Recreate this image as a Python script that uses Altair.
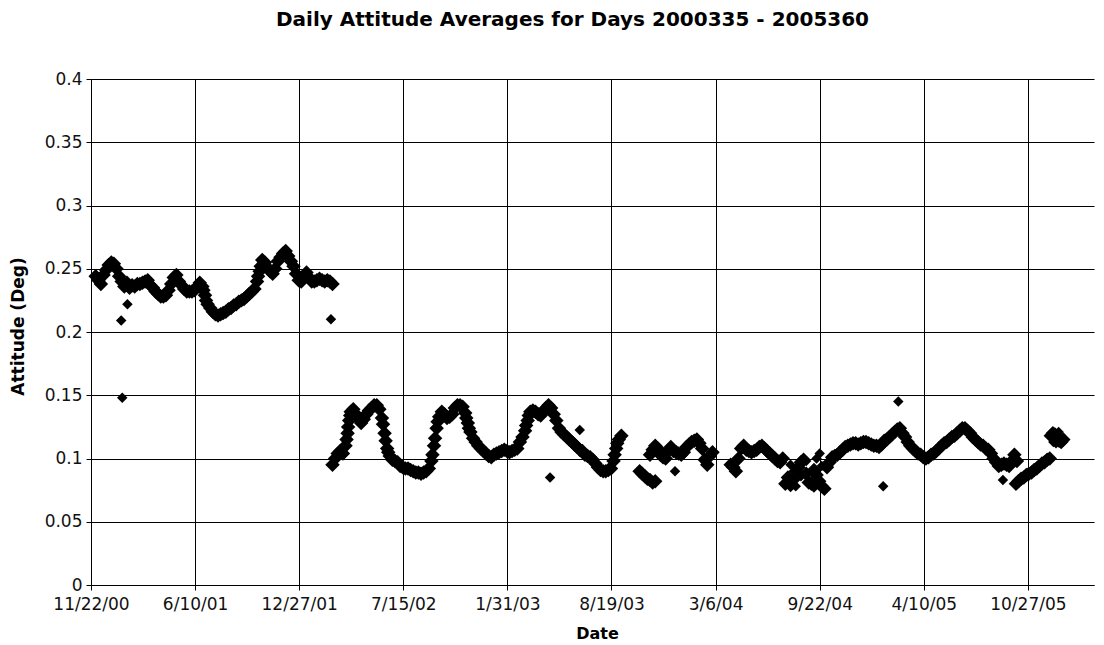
import altair as alt
import pandas as pd

# Day offsets are counted from 2000-12-01 (day 2000335)
BASE = "2000-12-01"

seg1_start, seg1_step = 0, 5
seg1_vals = [0.244, 0.241, 0.238, 0.245, 0.249, 0.253, 0.255, 0.254, 0.250, 0.244,
             0.240, 0.236, 0.239, 0.235, 0.237, 0.236, 0.238, 0.238, 0.239, 0.240,
             0.241, 0.237, 0.235, 0.232, 0.230, 0.228, 0.228, 0.229, 0.233, 0.238,
             0.243, 0.245, 0.240, 0.237, 0.234, 0.232, 0.232, 0.232, 0.233, 0.236,
             0.239, 0.236, 0.229, 0.222, 0.219, 0.216, 0.214, 0.213, 0.214, 0.215,
             0.216, 0.218, 0.219, 0.221, 0.222, 0.224, 0.225, 0.226, 0.228, 0.230,
             0.232, 0.234, 0.240, 0.248, 0.257, 0.255, 0.251, 0.248, 0.246, 0.250,
             0.256, 0.259, 0.262, 0.264, 0.260, 0.256, 0.252, 0.246, 0.241, 0.240,
             0.244, 0.247, 0.243, 0.240, 0.240, 0.241, 0.242, 0.241, 0.240, 0.241,
             0.240, 0.238]

seg2_start, seg2_step = 455, 5
seg2_vals = [0.095, 0.100, 0.104, 0.106, 0.104, 0.110, 0.125, 0.137, 0.139, 0.135,
             0.132, 0.128, 0.131, 0.135, 0.138, 0.140, 0.142, 0.142, 0.139, 0.132,
             0.120, 0.108, 0.102, 0.099, 0.098, 0.097, 0.094, 0.093, 0.092, 0.092,
             0.091, 0.090, 0.089, 0.089, 0.088, 0.089, 0.090, 0.092, 0.098, 0.110,
             0.124, 0.133, 0.137, 0.135, 0.132, 0.133, 0.135, 0.140, 0.142, 0.142,
             0.141, 0.136, 0.128, 0.121, 0.116, 0.113, 0.110, 0.108, 0.106, 0.104,
             0.102, 0.101, 0.103, 0.104, 0.105, 0.106, 0.107, 0.106, 0.105, 0.106,
             0.107, 0.108, 0.113, 0.117, 0.122, 0.130, 0.137, 0.138, 0.137, 0.135,
             0.134, 0.137, 0.140, 0.142, 0.140, 0.135, 0.130, 0.124, 0.121, 0.119,
             0.117, 0.115, 0.113, 0.111, 0.109, 0.107, 0.106, 0.103, 0.102, 0.101,
             0.099, 0.096, 0.093, 0.091, 0.090, 0.090, 0.091, 0.092, 0.098, 0.108,
             0.115, 0.118]

seg3a_start, seg3a_step = 1045, 5
seg3a_vals = [0.090, 0.088, 0.086, 0.084, 0.083, 0.081, 0.082]

seg3b_start, seg3b_step = 1065, 5
seg3b_vals = [0.103, 0.107, 0.110, 0.108, 0.103, 0.101, 0.100, 0.106, 0.109, 0.106,
              0.105, 0.104, 0.103, 0.105, 0.109, 0.111, 0.113, 0.114, 0.115, 0.112,
              0.108, 0.099, 0.095, 0.102, 0.105]

seg4_start, seg4_step = 1220, 5
seg4_vals = [0.095, 0.093, 0.090, 0.100, 0.108, 0.110, 0.107, 0.106, 0.105, 0.106,
             0.107, 0.109, 0.110, 0.108, 0.106, 0.104, 0.102, 0.100, 0.098, 0.097,
             0.100, 0.080, 0.085, 0.079, 0.083, 0.090, 0.093, 0.097, 0.099, 0.088,
             0.081, 0.080, 0.091, 0.087, 0.082, 0.078, 0.076, 0.093, 0.097, 0.101,
             0.102, 0.103, 0.105, 0.107, 0.109, 0.110, 0.111, 0.112, 0.112, 0.111,
             0.112, 0.113, 0.113, 0.112, 0.111, 0.110, 0.110, 0.109, 0.111, 0.114,
             0.115, 0.117, 0.119, 0.121, 0.123, 0.124, 0.120, 0.117, 0.113, 0.110,
             0.108, 0.106, 0.104, 0.103, 0.101, 0.100, 0.101, 0.103, 0.104, 0.106,
             0.108, 0.110, 0.112, 0.113, 0.115, 0.117, 0.118, 0.120, 0.122, 0.124,
             0.124, 0.122, 0.120, 0.117, 0.115, 0.113, 0.111, 0.110, 0.108, 0.107,
             0.104, 0.100, 0.097, 0.094, 0.095, 0.096, 0.095, 0.094, 0.098, 0.103,
             0.098]

seg5_start, seg5_step = 1768, 5
seg5_vals = [0.080, 0.082, 0.084, 0.085, 0.087, 0.088, 0.089, 0.091, 0.092, 0.094,
             0.096, 0.097, 0.099, 0.100]

seg6_start, seg6_step = 1835, 4
seg6_vals = [0.118, 0.120, 0.119, 0.116, 0.114, 0.113, 0.115]

# extra band points on the steep rises and falls
steep_days = [207, 212, 312, 317, 482, 484, 487, 489, 552, 557, 562,
              647, 652, 657, 712, 717, 827, 832, 997, 1002]
steep_vals = [0.233, 0.225, 0.244, 0.252, 0.115, 0.120, 0.130, 0.134, 0.127, 0.114, 0.105,
              0.103, 0.116, 0.129, 0.132, 0.124, 0.126, 0.134, 0.103, 0.112]

# isolated points
extra_days = [49, 51, 61, 452, 873, 930, 1113, 1391, 1513, 1542, 1743,
              1335, 1345, 1355, 1365, 1380, 1395, 1385, 1840, 1850, 1845]
extra_vals = [0.209, 0.148, 0.222, 0.210, 0.085, 0.1225, 0.090, 0.104, 0.078, 0.145, 0.083,
              0.095, 0.078, 0.086, 0.098, 0.077, 0.094, 0.100, 0.113, 0.121, 0.112]

x_ticks = ["2000-11-22", "2001-06-10", "2001-12-27", "2002-07-15", "2003-01-31",
           "2003-08-19", "2004-03-06", "2004-09-22", "2005-04-10", "2005-10-27"]
y_ticks = [0, 0.05, 0.1, 0.15, 0.2, 0.25, 0.3, 0.35, 0.4]
x_domain = ["2000-11-22", "2006-03-03"]

segments = [(seg1_start, seg1_step, seg1_vals), (seg2_start, seg2_step, seg2_vals),
            (seg3a_start, seg3a_step, seg3a_vals), (seg3b_start, seg3b_step, seg3b_vals),
            (seg4_start, seg4_step, seg4_vals), (seg5_start, seg5_step, seg5_vals),
            (seg6_start, seg6_step, seg6_vals)]

base = pd.Timestamp(BASE)
band_rows = []
for start, step, vals in segments:
    for i, v in enumerate(vals):
        d = base + pd.Timedelta(days=start + i * step)
        band_rows.append({"date": d.strftime("%Y-%m-%d"), "att": v})
for dd, v in zip(steep_days, steep_vals):
    d = base + pd.Timedelta(days=dd)
    band_rows.append({"date": d.strftime("%Y-%m-%d"), "att": v})
band_df = pd.DataFrame(band_rows)

extra_rows = []
for dd, v in zip(extra_days, extra_vals):
    d = base + pd.Timedelta(days=dd)
    extra_rows.append({"date": d.strftime("%Y-%m-%d"), "att": v})
extra_df = pd.DataFrame(extra_rows)


def ms(s):
    return int(pd.Timestamp(s, tz="UTC").timestamp() * 1000)


FONT = "DejaVu Sans"

x_enc = alt.X("date:T",
              scale=alt.Scale(type="utc", domain=[ms(v) for v in x_domain], nice=False),
              axis=alt.Axis(values=[ms(v) for v in x_ticks],
                            labelExpr="utcFormat(datum.value, '%-m/%-d/%y')",
                            title="Date", titleFont=FONT, titleFontSize=16, titleFontWeight="bold",
                            titleColor="#000", titleX=506, titleY=53, titleBaseline="alphabetic",
                            labelFont=FONT, labelFontSize=17, labelColor="#111",
                            labelPadding=6, tickSize=5, tickColor="#000",
                            domainColor="#000", grid=True, gridColor="#000",
                            gridOpacity=1, gridWidth=1, labelOverlap=False, labelFlush=False))
y_enc = alt.Y("att:Q",
              scale=alt.Scale(domain=[0, 0.4], nice=False, zero=True),
              axis=alt.Axis(values=y_ticks, format="~g",
                            title="Attitude (Deg)", titleFont=FONT, titleFontSize=17,
                            titleFontWeight="bold", titleColor="#000", titleX=-64, titleY=247,
                            labelFont=FONT, labelFontSize=17, labelColor="#111",
                            labelPadding=4, tickSize=5, tickColor="#000",
                            domainColor="#000", grid=True, gridColor="#000",
                            gridOpacity=1, gridWidth=1))

band = alt.Chart(band_df).mark_point(
    shape="diamond", filled=True, size=210, color="#000000", opacity=1
).encode(x=x_enc, y=y_enc)

extra = alt.Chart(extra_df).mark_point(
    shape="diamond", filled=True, size=110, color="#000000", opacity=1
).encode(x="date:T", y="att:Q")

chart = alt.layer(band, extra).properties(
    width=1003,
    height=506,
    autosize=alt.AutoSizeParams(type="none"),
    padding={"left": 83, "top": 71, "right": 2, "bottom": 58},
    title=alt.TitleParams(text="Daily Attitude Averages for Days 2000335 - 2005360",
                          font=FONT, fontSize=20, fontWeight="bold", color="#000",
                          anchor="middle", frame="group", offset=40, dx=-20),
).configure_view(strokeWidth=0)

chart.save("out.html", embed_options={"renderer": "svg", "actions": False})
